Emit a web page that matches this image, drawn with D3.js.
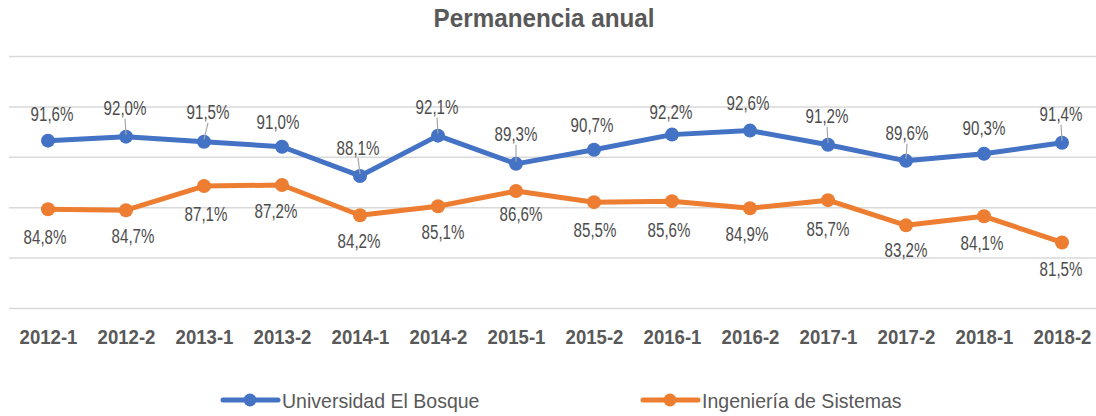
<!DOCTYPE html>
<html>
<head>
<meta charset="utf-8">
<script src="https://cdn.jsdelivr.net/npm/d3@7"></script>
<style>
    body { margin: 0; background: white; }
    #chart { width: 1096px; height: 416px; }
    text { font-family: "Liberation Sans", Arial, sans-serif; fill: #595959; }
</style>
</head>
<body>
<div id="chart"></div>
<script>

// data
const categories = ["2012-1", "2012-2", "2013-1", "2013-2", "2014-1", "2014-2", "2015-1",
    "2015-2", "2016-1", "2016-2", "2017-1", "2017-2", "2018-1", "2018-2"];
const bosqueValues = [91.6, 92.0, 91.5, 91.0, 88.1, 92.1, 89.3, 90.7, 92.2, 92.6, 91.2, 89.6, 90.3, 91.4];
const sistemasValues = [84.8, 84.7, 87.1, 87.2, 84.2, 85.1, 86.6, 85.5, 85.6, 84.9, 85.7, 83.2, 84.1, 81.5];
const seriesNames = ["Universidad El Bosque", "Ingeniería de Sistemas"];
const yTicks = [75, 80, 85, 90, 95, 100];

// label placement (label centre relative to its point) and leader lines, as Excel left them
const bosqueLabelOffsets = [[4, -27], [-1, -29], [4, -30], [-4, -25], [-2, -29], [-1, -29], [0, -30],
    [-2, -25], [-1, -23], [-2, -28], [-1, -29], [1, -28], [0, -26], [-1, -29]];
const bosqueLeaders = [0, 1, 1, 0, 1, 1, 1, 0, 0, 0, 1, 1, 0, 1];
const sistemasLabelOffsets = [[-3, 27], [7, 25], [2, 27], [-6, 25], [-1, 25], [5, 25], [5, 22],
    [1, 27], [-3, 28], [-3, 25], [0, 28], [0, 24], [-2, 26], [-1, 26]];

class LineChartVis {

    constructor(parentElement) {
        this.parentElement = parentElement;
        this.colors = ["#4472C4", "#ED7D31"];
        this.initVis();
    }

    initVis() {
        let vis = this;

        vis.width = 1096;
        vis.height = 416;

        vis.svg = d3.select("#" + vis.parentElement).append("svg")
            .attr("width", vis.width)
            .attr("height", vis.height);

        // scales
        vis.x = d3.scalePoint()
            .domain(categories)
            .range([48, 1062]);

        vis.y = d3.scaleLinear()
            .domain([75, 100])
            .range([308, 56]);

        // title
        vis.svg.append("g")
            .attr("transform", "translate(544, 27) scale(0.97, 1)")
            .append("text")
            .attr("text-anchor", "middle")
            .style("font-size", "25px")
            .style("font-weight", "bold")
            .text("Permanencia anual");

        // horizontal gridlines
        vis.grid = vis.svg.append("g")
            .attr("class", "grid")
            .attr("transform", "translate(9, 0)")
            .call(d3.axisLeft(vis.y).tickValues(yTicks).tickSize(-(vis.width - 9)).tickFormat(""));
        vis.grid.select(".domain").remove();
        vis.grid.selectAll("line")
            .attr("stroke", "#d9d9d9")
            .attr("stroke-width", 1.5);

        // x axis labels
        vis.xAxis = vis.svg.append("g")
            .attr("class", "x-axis")
            .attr("transform", "translate(0, 330)")
            .call(d3.axisBottom(vis.x).tickSize(0).tickPadding(0));
        vis.xAxis.select(".domain").remove();
        vis.xAxis.selectAll("text")
            .attr("dy", "0.72em")
            .attr("transform", "scale(0.93, 1)")
            .style("font-size", "20px")
            .style("font-weight", "bold")
            .style("font-family", "'Liberation Sans', Arial, sans-serif")
            .attr("fill", "#595959");

        // legend
        vis.legend = vis.svg.append("g").attr("class", "legend");
        let legendX = [223, 643];
        seriesNames.forEach((name, i) => {
            let g = vis.legend.append("g").attr("transform", `translate(${legendX[i]}, 400)`);
            g.append("line")
                .attr("x1", 0).attr("x2", 55)
                .attr("stroke", vis.colors[i])
                .attr("stroke-width", 5)
                .attr("stroke-linecap", "round");
            g.append("circle")
                .attr("cx", 27).attr("r", 6.5)
                .attr("fill", vis.colors[i]);
            g.append("g")
                .attr("transform", "translate(59, 7.5) scale(0.93, 1)")
                .append("text")
                .style("font-size", "21px")
                .text(name);
        });

        vis.wrangleData();
    }

    wrangleData() {
        let vis = this;

        vis.series = [
            {values: bosqueValues, offsets: bosqueLabelOffsets, leaders: bosqueLeaders},
            {values: sistemasValues, offsets: sistemasLabelOffsets, leaders: sistemasValues.map(() => 0)}
        ].map((s, i) => ({
            color: vis.colors[i],
            points: s.values.map((v, j) => ({
                cat: categories[j],
                value: v,
                dx: s.offsets[j][0],
                dy: s.offsets[j][1],
                leader: s.leaders[j]
            }))
        }));

        vis.updateVis();
    }

    updateVis() {
        let vis = this;

        let line = d3.line()
            .x(d => vis.x(d.cat))
            .y(d => vis.y(d.value));

        let fmt = v => d3.format(".1f")(v).replace(".", ",") + "%";

        let groups = vis.svg.selectAll(".series")
            .data(vis.series)
            .enter()
            .append("g")
            .attr("class", "series");

        groups.append("path")
            .attr("d", d => line(d.points))
            .attr("fill", "none")
            .attr("stroke", d => d.color)
            .attr("stroke-width", 5)
            .attr("stroke-linejoin", "round");

        groups.each(function(s) {
            d3.select(this).selectAll("circle")
                .data(s.points)
                .enter()
                .append("circle")
                .attr("cx", d => vis.x(d.cat))
                .attr("cy", d => vis.y(d.value))
                .attr("r", 7)
                .attr("fill", s.color);
        });

        // leader lines
        groups.each(function(s) {
            d3.select(this).selectAll(".leader")
                .data(s.points.filter(d => d.leader))
                .enter()
                .append("line")
                .attr("class", "leader")
                .attr("x1", d => vis.x(d.cat) + d.dx)
                .attr("y1", d => vis.y(d.value) + d.dy + 11)
                .attr("x2", d => vis.x(d.cat))
                .attr("y2", d => vis.y(d.value) - 2)
                .attr("stroke", "#a6a6a6")
                .attr("stroke-width", 1.2);
        });

        // data labels
        groups.each(function(s) {
            d3.select(this).selectAll(".label")
                .data(s.points)
                .enter()
                .append("g")
                .attr("class", "label")
                .attr("transform", d => `translate(${vis.x(d.cat) + d.dx}, ${vis.y(d.value) + d.dy}) scale(0.72, 1)`)
                .append("text")
                .attr("text-anchor", "middle")
                .attr("dy", "0.36em")
                .style("font-size", "21px")
                .style("fill", "#4d4d4d")
                .text(d => fmt(d.value));
        });
    }
}

let myChart = new LineChartVis("chart");
</script>
</body>
</html>
